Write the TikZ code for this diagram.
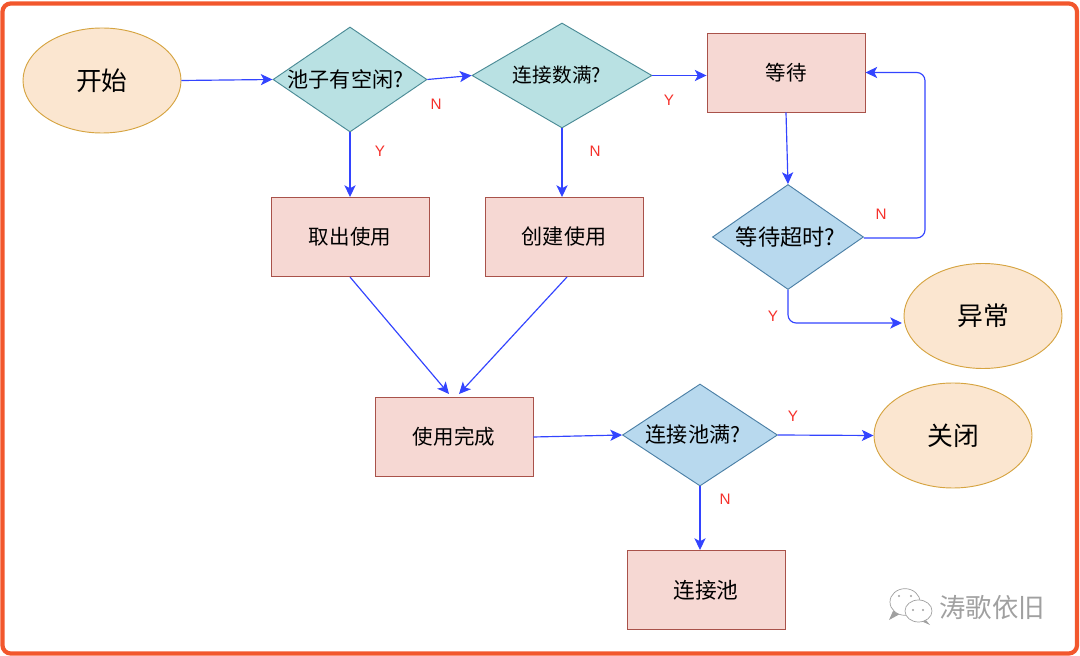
\documentclass[tikz,border=0pt]{standalone}
\usepackage{fontspec}
\setmainfont{Noto Sans CJK SC}
\newfontfamily\latinfont{Liberation Sans}
\usepackage{tikz}
\usetikzlibrary{arrows.meta,shapes.geometric}
\definecolor{framecolor}{HTML}{F2572D}
\definecolor{flowcolor}{HTML}{3344FF}
\definecolor{labelcolor}{HTML}{F5302A}
\definecolor{markcolor}{HTML}{A0A0A0}
\definecolor{endfill}{HTML}{FBE6D0}
\definecolor{endline}{HTML}{D6A441}
\definecolor{boxfill}{HTML}{F6D8D3}
\definecolor{boxline}{HTML}{A9524A}
\definecolor{tealfill}{HTML}{B9E1E3}
\definecolor{tealline}{HTML}{4B8B96}
\definecolor{bluefill}{HTML}{B8D9EE}
\definecolor{blueline}{HTML}{4C80A6}
\tikzset{
  endpoint/.style={ellipse,draw=endline,fill=endfill,line width=0.8pt,minimum width=4.74cm,minimum height=3.15cm,inner sep=0pt,font=\fontsize{22}{24}\selectfont},
  stepbox/.style={rectangle,draw=boxline,fill=boxfill,line width=0.8pt,minimum width=4.74cm,minimum height=2.37cm,inner sep=0pt,font=\fontsize{17.5}{20}\selectfont},
  choice/.style={diamond,aspect=1.5,line width=0.8pt,inner sep=0pt,minimum height=3.15cm,font=\fontsize{18}{20}\selectfont},
  choicea/.style={choice,draw=tealline,fill=tealfill},
  choiceb/.style={choice,draw=blueline,fill=bluefill},
  flow/.style={draw=flowcolor,line width=1pt,-{Stealth[length=10pt,width=9.5pt,inset=2.5pt]}},
  flag/.style={text=labelcolor,font=\latinfont\fontsize{13}{15}\selectfont,inner sep=0pt},
  bubble/.style={ellipse,draw=markcolor,fill=white,line width=0.6pt,inner sep=0pt},
  bubbledot/.style={circle,fill=markcolor,inner sep=0pt,minimum size=2pt}
}

\begin{document}
\begin{tikzpicture}[x=0.03cm,y=-0.03cm]
\useasboundingbox (0,0) rectangle (1080,656);
\draw[framecolor,line width=3.6pt,rounded corners=7pt] (2.5,3.5) rectangle (1077,653.5);
%ends
\node[endpoint] (start) at (102,80.5) {开始};
\node[endpoint] (fault) at (983,316) {异常};
\node[endpoint] (shut) at (953,435.5) {关闭};
%boxes
\node[stepbox] (wait) at (786,72.5) {等待};
\node[stepbox] (take) at (350,237) {取出使用};
\node[stepbox,font=\fontsize{18}{20}\selectfont] (make) at (564,237) {创建使用};
\node[stepbox] (done) at (454,437) {使用完成};
\node[stepbox,font=\fontsize{18.5}{20}\selectfont] (pool) at (706,590) {连接池};
%questions
\node[choicea,minimum width=4.62cm] (idle) at (350,79.5) {池子有空闲?\kern0.27cm};
\node[choicea,minimum width=5.4cm,font=\fontsize{16.8}{20}\selectfont] (full) at (562,75.5) {连接数满?\kern0.3cm};
\node[choiceb,minimum width=4.53cm,font=\fontsize{18.9}{20}\selectfont] (late) at (788,237) {等待超时?\kern0.15cm};
\node[choiceb,minimum width=4.65cm,minimum height=3.06cm] (back) at (700,435) {连接池满?\kern0.42cm};
%free ends
\coordinate (turn) at (925,238);
\coordinate (faultin) at (902,323);
\coordinate (donel) at (449,394);
\coordinate (doner) at (459,394);
\coordinate (takeout) at (350,277);
\coordinate (makeout) at (567,277);
%arrows
\draw[flow] (start.east) -- (idle.west);
\draw[flow] (idle.east) -- (full.west);
\draw[flow] (full.east) -- (full.east -| wait.west);
\draw[flow] (idle.south) -- (take.north);
\draw[flow] (full.south) -- (full.south |- make.north);
\draw[flow] (wait.south) -- (late.north);
\draw[flow,rounded corners=7pt] (late.east |- turn) -- (turn) -- (turn |- wait.east) -- (wait.east);
\draw[flow,rounded corners=7pt] (late.south) -- (late.south |- faultin) -- (faultin);
\draw[flow] (takeout) -- (donel);
\draw[flow] (makeout) -- (doner);
\draw[flow] (done.east) -- (back.west);
\draw[flow] (back.east) -- (shut.west);
\draw[flow] (back.south) -- (back.south |- pool.north);
%labels
\node[flag] (n1) at (436,104) {N};
\node[flag] (y1) at (380,151) {Y};
\node[flag] (y2) at (669,100) {Y};
\node[flag] (n2) at (595,151) {N};
\node[flag] (n3) at (881,214) {N};
\node[flag] (y3) at (773,316) {Y};
\node[flag] (y4) at (793,416) {Y};
\node[flag] (n4) at (725,499) {N};
%mark
\fill[markcolor] (893,611) -- (889,620) -- (900,614) -- cycle;
\node[bubble,minimum width=0.9cm,minimum height=0.8cm] (big) at (905,602) {};
\fill[markcolor] (925,619) -- (930,625) -- (921,621) -- cycle;
\node[bubble,minimum width=0.81cm,minimum height=0.66cm] (small) at (918.5,611) {};
\node[bubbledot] (d1) at (899,596) {};
\node[bubbledot] (d2) at (911,596) {};
\node[bubbledot] (d3) at (913,610) {};
\node[bubbledot] (d4) at (923,610) {};
\node[text=markcolor,inner sep=0pt,font=\fontsize{22.5}{24}\selectfont] (brand) at (992,608) {涛歌依旧};
\end{tikzpicture}
\end{document}
